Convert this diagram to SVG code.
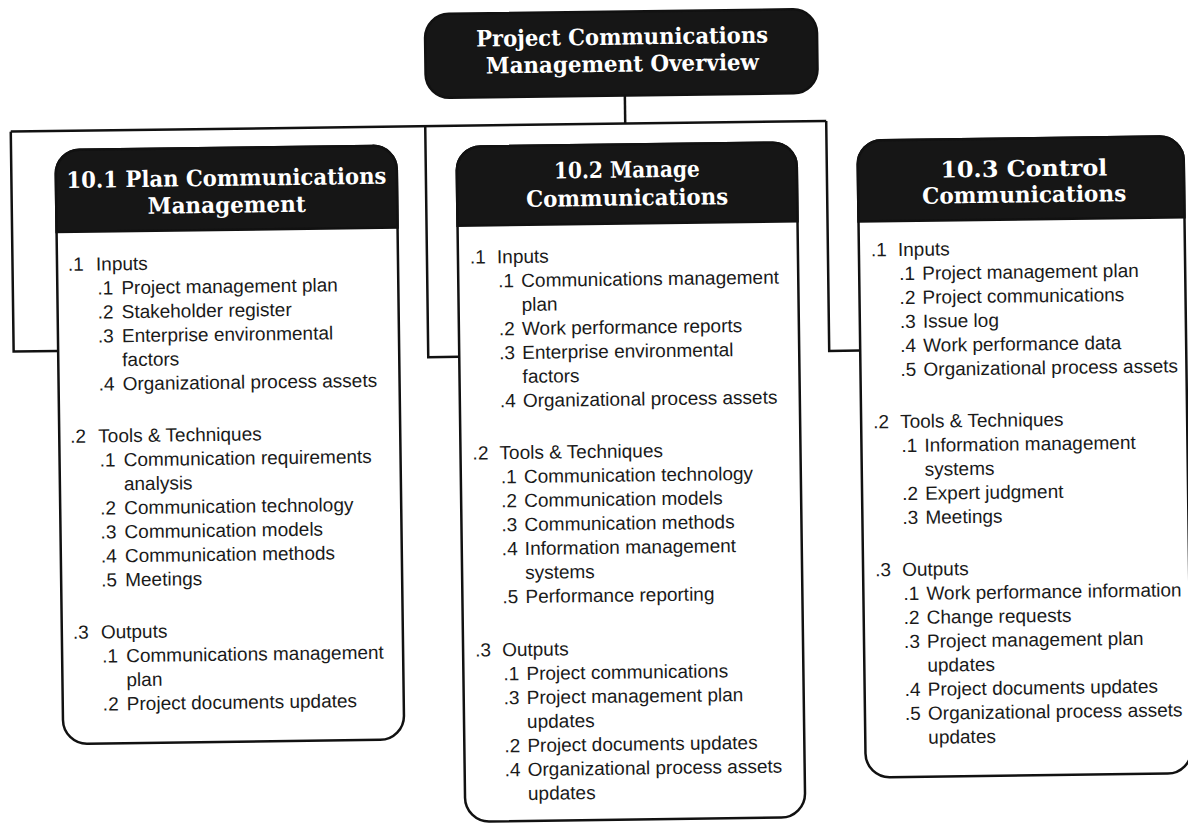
<svg xmlns="http://www.w3.org/2000/svg" width="1188" height="827" viewBox="0 0 1188 827">
  <style>
    .t { font-family: "Liberation Sans", Arial, sans-serif; font-size: 19px; fill: #1a1a1a; }
    .hd { font-family: "DejaVu Serif", "Liberation Serif", serif; font-weight: bold; font-size: 22.5px; fill: #ffffff; text-anchor: middle; }
    .box { fill: #ffffff; stroke: #111111; stroke-width: 2.5; }
    .cap { fill: #161616; stroke: #111111; stroke-width: 2.5; }
    .wire { fill: none; stroke: #111111; stroke-width: 2.5; }
  </style>
  <rect width="1188" height="827" fill="#ffffff"/>
  <g transform="rotate(-0.75 594 413)">
    <!-- connectors -->
    <g id="connectors">
      <path class="wire" d="M629 96 V124"/>
      <path class="wire" d="M14.5 124 H830"/>
      <path class="wire" d="M14.5 124 V344 H59"/>
      <path class="wire" d="M429 124 V355 H460"/>
      <path class="wire" d="M830 124 V354 H861"/>
    </g>

    <!-- overview -->
    <g id="overview">
      <rect x="430" y="12" width="392" height="84" rx="24" class="cap"/>
      <text class="hd" font-size="21" x="627" y="45" textLength="292" lengthAdjust="spacingAndGlyphs">Project Communications</text>
      <text class="hd" font-size="21" x="627" y="72" textLength="273" lengthAdjust="spacingAndGlyphs">Management Overview</text>
    </g>

    <!-- 10.1 -->
    <g id="plan-communications">
      <rect x="59" y="143" width="341" height="594" rx="24" class="box"/>
      <path class="cap" d="M59 225 V167 A24 24 0 0 1 83 143 H376 A24 24 0 0 1 400 167 V225 Z"/>
      <text class="hd" x="229.5" y="181" textLength="320" lengthAdjust="spacingAndGlyphs">10.1 Plan Communications</text>
      <text class="hd" x="229.5" y="208" textLength="158" lengthAdjust="spacingAndGlyphs">Management</text>
      <text class="t" y="264"><tspan x="70">.1</tspan><tspan x="98">Inputs</tspan></text>
      <text class="t" y="288"><tspan x="99">.1</tspan><tspan x="123">Project management plan</tspan></text>
      <text class="t" y="312"><tspan x="99">.2</tspan><tspan x="123">Stakeholder register</tspan></text>
      <text class="t" y="336"><tspan x="99">.3</tspan><tspan x="123">Enterprise environmental</tspan></text>
      <text class="t" y="360" x="123">factors</text>
      <text class="t" y="384"><tspan x="99">.4</tspan><tspan x="123">Organizational process assets</tspan></text>
      <text class="t" y="436"><tspan x="70">.2</tspan><tspan x="98">Tools &amp; Techniques</tspan></text>
      <text class="t" y="460"><tspan x="99">.1</tspan><tspan x="123">Communication requirements</tspan></text>
      <text class="t" y="484" x="123">analysis</text>
      <text class="t" y="508"><tspan x="99">.2</tspan><tspan x="123">Communication technology</tspan></text>
      <text class="t" y="532"><tspan x="99">.3</tspan><tspan x="123">Communication models</tspan></text>
      <text class="t" y="556"><tspan x="99">.4</tspan><tspan x="123">Communication methods</tspan></text>
      <text class="t" y="580"><tspan x="99">.5</tspan><tspan x="123">Meetings</tspan></text>
      <text class="t" y="632"><tspan x="70">.3</tspan><tspan x="98">Outputs</tspan></text>
      <text class="t" y="656"><tspan x="99">.1</tspan><tspan x="123">Communications management</tspan></text>
      <text class="t" y="680" x="123">plan</text>
      <text class="t" y="704"><tspan x="99">.2</tspan><tspan x="123">Project documents updates</tspan></text>
    </g>

    <!-- 10.2 -->
    <g id="manage-communications">
      <rect x="460" y="145" width="340" height="675" rx="24" class="box"/>
      <path class="cap" d="M460 224 V169 A24 24 0 0 1 484 145 H776 A24 24 0 0 1 800 169 V224 Z"/>
      <text class="hd" x="630" y="178" textLength="146" lengthAdjust="spacingAndGlyphs">10.2 Manage</text>
      <text class="hd" x="630" y="206" textLength="202" lengthAdjust="spacingAndGlyphs">Communications</text>
      <text class="t" y="262"><tspan x="472">.1</tspan><tspan x="499">Inputs</tspan></text>
      <text class="t" y="286"><tspan x="500">.1</tspan><tspan x="523">Communications management</tspan></text>
      <text class="t" y="310" x="523">plan</text>
      <text class="t" y="334"><tspan x="500">.2</tspan><tspan x="523">Work performance reports</tspan></text>
      <text class="t" y="358"><tspan x="500">.3</tspan><tspan x="523">Enterprise environmental</tspan></text>
      <text class="t" y="382" x="523">factors</text>
      <text class="t" y="406"><tspan x="500">.4</tspan><tspan x="523">Organizational process assets</tspan></text>
      <text class="t" y="458"><tspan x="472">.2</tspan><tspan x="499">Tools &amp; Techniques</tspan></text>
      <text class="t" y="482"><tspan x="500">.1</tspan><tspan x="523">Communication technology</tspan></text>
      <text class="t" y="506"><tspan x="500">.2</tspan><tspan x="523">Communication models</tspan></text>
      <text class="t" y="530"><tspan x="500">.3</tspan><tspan x="523">Communication methods</tspan></text>
      <text class="t" y="554"><tspan x="500">.4</tspan><tspan x="523">Information management</tspan></text>
      <text class="t" y="578" x="523">systems</text>
      <text class="t" y="602"><tspan x="500">.5</tspan><tspan x="523">Performance reporting</tspan></text>
      <text class="t" y="655"><tspan x="472">.3</tspan><tspan x="499">Outputs</tspan></text>
      <text class="t" y="679"><tspan x="500">.1</tspan><tspan x="523">Project communications</tspan></text>
      <text class="t" y="703"><tspan x="500">.3</tspan><tspan x="523">Project management plan</tspan></text>
      <text class="t" y="727" x="523">updates</text>
      <text class="t" y="751"><tspan x="500">.2</tspan><tspan x="523">Project documents updates</tspan></text>
      <text class="t" y="775"><tspan x="500">.4</tspan><tspan x="523">Organizational process assets</tspan></text>
      <text class="t" y="799" x="523">updates</text>
    </g>

    <!-- 10.3 -->
    <g id="control-communications">
      <rect x="861" y="144" width="326" height="637" rx="24" class="box"/>
      <path class="cap" d="M861 225 V168 A24 24 0 0 1 885 144 H1163 A24 24 0 0 1 1187 168 V225 Z"/>
      <text class="hd" x="1027" y="182" textLength="167" lengthAdjust="spacingAndGlyphs">10.3 Control</text>
      <text class="hd" x="1027" y="208" textLength="204" lengthAdjust="spacingAndGlyphs">Communications</text>
      <text class="t" y="260"><tspan x="873">.1</tspan><tspan x="900">Inputs</tspan></text>
      <text class="t" y="284"><tspan x="901">.1</tspan><tspan x="924">Project management plan</tspan></text>
      <text class="t" y="308"><tspan x="901">.2</tspan><tspan x="924">Project communications</tspan></text>
      <text class="t" y="332"><tspan x="901">.3</tspan><tspan x="924">Issue log</tspan></text>
      <text class="t" y="356"><tspan x="901">.4</tspan><tspan x="924">Work performance data</tspan></text>
      <text class="t" y="380"><tspan x="901">.5</tspan><tspan x="924">Organizational process assets</tspan></text>
      <text class="t" y="432"><tspan x="873">.2</tspan><tspan x="900">Tools &amp; Techniques</tspan></text>
      <text class="t" y="456"><tspan x="901">.1</tspan><tspan x="924">Information management</tspan></text>
      <text class="t" y="480" x="924">systems</text>
      <text class="t" y="504"><tspan x="901">.2</tspan><tspan x="924">Expert judgment</tspan></text>
      <text class="t" y="528"><tspan x="901">.3</tspan><tspan x="924">Meetings</tspan></text>
      <text class="t" y="580"><tspan x="873">.3</tspan><tspan x="900">Outputs</tspan></text>
      <text class="t" y="604"><tspan x="901">.1</tspan><tspan x="924">Work performance information</tspan></text>
      <text class="t" y="628"><tspan x="901">.2</tspan><tspan x="924">Change requests</tspan></text>
      <text class="t" y="652"><tspan x="901">.3</tspan><tspan x="924">Project management plan</tspan></text>
      <text class="t" y="676" x="924">updates</text>
      <text class="t" y="700"><tspan x="901">.4</tspan><tspan x="924">Project documents updates</tspan></text>
      <text class="t" y="724"><tspan x="901">.5</tspan><tspan x="924">Organizational process assets</tspan></text>
      <text class="t" y="748" x="924">updates</text>
    </g>
  </g>
</svg>
